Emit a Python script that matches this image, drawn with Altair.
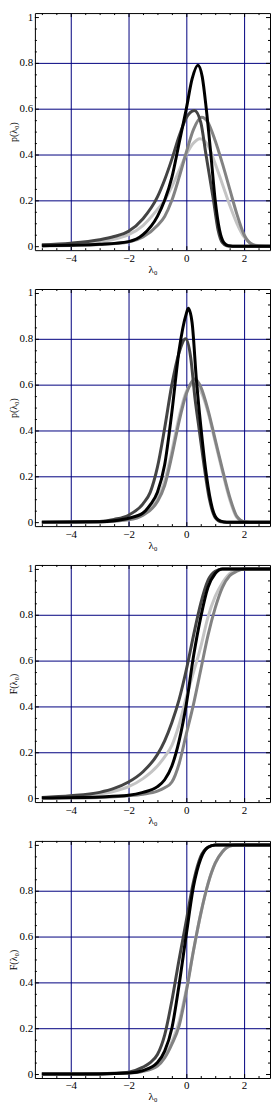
import altair as alt
import pandas as pd

# ---------------- data ----------------
# panel 1 : densities p(lambda0)
P1_LIGHT = [(-5, 0.004), (-4, 0.01), (-3, 0.02), (-2.5, 0.03), (-2, 0.05), (-1.5, 0.09), (-1, 0.16),
            (-0.75, 0.2), (-0.5, 0.26), (-0.25, 0.33), (0, 0.4), (0.25, 0.45), (0.47, 0.469), (0.75, 0.44),
            (1.0, 0.36), (1.25, 0.27), (1.5, 0.18), (1.75, 0.1), (2.0, 0.04), (2.25, 0.01), (2.5, 0.002),
            (2.7, 0.0), (3, 0.0)]
P1_MED = [(-5, 0.001), (-4, 0.003), (-3, 0.007), (-2, 0.018), (-1.5, 0.04), (-1, 0.09), (-0.75, 0.13),
          (-0.5, 0.2), (-0.25, 0.3), (0, 0.41), (0.25, 0.51), (0.53, 0.563), (0.75, 0.54), (1.0, 0.46),
          (1.25, 0.36), (1.5, 0.25), (1.75, 0.14), (2.0, 0.05), (2.25, 0.01), (2.5, 0.001), (3, 0.0)]
P1_DARK = [(-5, 0.006), (-4, 0.013), (-3, 0.028), (-2.5, 0.042), (-2, 0.065), (-1.5, 0.12), (-1, 0.215),
           (-0.75, 0.29), (-0.5, 0.38), (-0.25, 0.48), (0, 0.56), (0.28, 0.592), (0.5, 0.54), (0.68, 0.4),
           (0.94, 0.2), (1.1, 0.07), (1.25, 0.015), (1.4, 0.002), (1.6, 0.0), (3, 0.0)]
P1_BLACK = [(-5, 0.002), (-4, 0.004), (-3, 0.008), (-2, 0.02), (-1.5, 0.05), (-1, 0.13), (-0.75, 0.2),
            (-0.5, 0.3), (-0.25, 0.45), (0, 0.6), (0.2, 0.73), (0.4, 0.79), (0.55, 0.74), (0.69, 0.6),
            (0.85, 0.4), (1.0, 0.2), (1.15, 0.07), (1.3, 0.015), (1.45, 0.002), (1.6, 0.0), (3, 0.0)]

# panel 2 : densities p(lambda0)
P2_LIGHT = [(-5, 0.0), (-3, 0.002), (-2.5, 0.006), (-2, 0.015), (-1.5, 0.04), (-1, 0.1), (-0.75, 0.18),
            (-0.5, 0.31), (-0.25, 0.46), (0, 0.57), (0.2, 0.6), (0.5, 0.57), (0.75, 0.48), (1.0, 0.35),
            (1.25, 0.22), (1.5, 0.1), (1.75, 0.02), (2.0, 0.002), (2.2, 0.0), (3, 0.0)]
P2_MED = [(-5, 0.0), (-3, 0.001), (-2, 0.01), (-1.5, 0.03), (-1, 0.09), (-0.75, 0.16), (-0.5, 0.29),
          (-0.25, 0.44), (0, 0.56), (0.3, 0.625), (0.5, 0.59), (0.75, 0.49), (1.0, 0.36), (1.25, 0.23),
          (1.5, 0.11), (1.75, 0.025), (2.0, 0.002), (2.2, 0.0), (3, 0.0)]
P2_DARK = [(-5, 0.0), (-3, 0.003), (-2.5, 0.012), (-2, 0.03), (-1.5, 0.08), (-1.25, 0.13), (-1, 0.24),
           (-0.75, 0.41), (-0.5, 0.6), (-0.25, 0.74), (-0.02, 0.8), (0.15, 0.72), (0.3, 0.54), (0.45, 0.4),
           (0.6, 0.26), (0.8, 0.1), (1.0, 0.02), (1.2, 0.002), (1.4, 0.0), (3, 0.0)]
P2_BLACK = [(-5, 0.0), (-3, 0.002), (-2.5, 0.006), (-2, 0.017), (-1.5, 0.04), (-1.25, 0.075), (-1, 0.13),
            (-0.75, 0.25), (-0.5, 0.48), (-0.25, 0.75), (0, 0.91), (0.07, 0.933), (0.2, 0.87), (0.35, 0.62),
            (0.5, 0.42), (0.7, 0.2), (0.9, 0.06), (1.1, 0.01), (1.3, 0.001), (1.5, 0.0), (3, 0.0)]

# panel 3 : distribution functions F(lambda0)
P3_LIGHT = [(-5, 0.002), (-4, 0.008), (-3, 0.018), (-2.5, 0.03), (-2, 0.05), (-1.5, 0.085), (-1, 0.14),
            (-0.75, 0.18), (-0.5, 0.23), (-0.25, 0.32), (0, 0.44), (0.25, 0.55), (0.5, 0.66), (0.75, 0.79),
            (1.0, 0.88), (1.25, 0.94), (1.5, 0.98), (1.75, 0.995), (2.0, 1.0), (3, 1.0)]
P3_MED = [(-5, 0.0), (-3, 0.003), (-2, 0.01), (-1.5, 0.017), (-1, 0.03), (-0.75, 0.045), (-0.5, 0.07),
          (-0.25, 0.15), (0, 0.28), (0.25, 0.41), (0.5, 0.56), (0.75, 0.71), (1.0, 0.83), (1.25, 0.92),
          (1.5, 0.97), (1.75, 0.99), (2.0, 1.0), (3, 1.0)]
P3_DARK = [(-5, 0.003), (-4, 0.01), (-3, 0.025), (-2.5, 0.042), (-2, 0.07), (-1.5, 0.115), (-1, 0.19),
           (-0.75, 0.25), (-0.5, 0.33), (-0.25, 0.43), (0, 0.56), (0.25, 0.71), (0.5, 0.85), (0.75, 0.95),
           (1.0, 0.99), (1.25, 1.0), (3, 1.0)]
P3_BLACK = [(-5, 0.0), (-4, 0.002), (-3, 0.005), (-2, 0.012), (-1.5, 0.025), (-1, 0.05), (-0.75, 0.08),
            (-0.5, 0.14), (-0.25, 0.25), (0, 0.41), (0.25, 0.62), (0.5, 0.79), (0.75, 0.92), (1.0, 0.98),
            (1.25, 1.0), (3, 1.0)]

# panel 4 : distribution functions F(lambda0)
P4_LIGHT = [(-5, 0.0), (-3, 0.001), (-2, 0.006), (-1.5, 0.016), (-1, 0.045), (-0.75, 0.08), (-0.5, 0.14),
            (-0.25, 0.23), (0, 0.37), (0.25, 0.54), (0.5, 0.7), (0.75, 0.83), (1.0, 0.92), (1.25, 0.97),
            (1.5, 0.995), (1.75, 1.0), (3, 1.0)]
P4_MED = [(-5, 0.0), (-3, 0.0005), (-2, 0.004), (-1.5, 0.012), (-1, 0.035), (-0.75, 0.07), (-0.5, 0.13),
          (-0.25, 0.21), (0, 0.36), (0.25, 0.54), (0.5, 0.7), (0.75, 0.83), (1.0, 0.92), (1.25, 0.97),
          (1.5, 0.995), (1.75, 1.0), (3, 1.0)]
P4_DARK = [(-5, 0.0), (-3, 0.001), (-2.5, 0.003), (-2, 0.008), (-1.5, 0.03), (-1.25, 0.05), (-1, 0.085),
           (-0.75, 0.17), (-0.5, 0.32), (-0.25, 0.5), (0, 0.67), (0.25, 0.84), (0.5, 0.95), (0.75, 0.99),
           (1.0, 1.0), (3, 1.0)]
P4_BLACK = [(-5, 0.0), (-3, 0.0005), (-2, 0.004), (-1.5, 0.015), (-1, 0.05), (-0.75, 0.1), (-0.5, 0.2),
            (-0.25, 0.39), (0, 0.61), (0.25, 0.82), (0.5, 0.94), (0.75, 0.99), (1.0, 1.0), (3, 1.0)]

Y_TITLES = ["p(λ₀)", "p(λ₀)", "F(λ₀)", "F(λ₀)"]
X_TITLE = "λ₀"
CURVE_COLORS = ["#c4c4c4", "#828282", "#444444", "#000000"]  # drawn in this order

X_MAJOR = [-4, -2, 0, 2]
X_MINOR = [-5, -4.5, -3.5, -3, -2.5, -1.5, -1, -0.5, 0.5, 1, 1.5, 2.5]
Y_MAJOR = [0, 0.2, 0.4, 0.6, 0.8, 1.0]
Y_MINOR = [0.05, 0.1, 0.15, 0.25, 0.3, 0.35, 0.45, 0.5, 0.55, 0.65, 0.7, 0.75, 0.85, 0.9, 0.95]

# ---------------- styling ----------------
W, H = 236, 238
XDOM = [-152 / 29, 84 / 29]          # 29 px per unit, gridlines on whole pixels
YDOM = [-4 / 230, 1 + 4 / 230]       # 230 px per unit
NAVY = "#000080"
SERIF = "Liberation Serif"
GRID_OPACITY = {"condition": {"test": "datum.value > 0.1 && datum.value < 0.9", "value": 1}, "value": 0}


def make_panel(ytitle, series):
    xs = alt.Scale(domain=XDOM, nice=False, zero=False)
    ys = alt.Scale(domain=YDOM, nice=False, zero=False)
    xaxis = alt.Axis(values=X_MAJOR, grid=True, gridColor=NAVY, gridOpacity=1, gridWidth=1,
                     ticks=False, domain=False, labelFlush=False, labelPadding=2,
                     labelFont=SERIF, labelFontSize=11, labelColor="black",
                     title=X_TITLE, titleFont=SERIF, titleFontSize=11, titleFontWeight="normal",
                     titleColor="black", titlePadding=0)
    yaxis = alt.Axis(values=Y_MAJOR, format="~g", grid=True, gridColor=NAVY, gridWidth=1,
                     gridOpacity=GRID_OPACITY, ticks=False, domain=False,
                     labelFlush=False, labelPadding=2.25,
                     labelFont=SERIF, labelFontSize=11, labelColor="black",
                     title=ytitle, titleFont=SERIF, titleFontSize=10, titleFontWeight="normal",
                     titleColor="black", titlePadding=0)

    def xt(vals, y1, y2):
        return alt.Chart(pd.DataFrame({"v": vals})).mark_rule(
            color="black", strokeWidth=1, xOffset=0.5).encode(
            x=alt.X("v:Q", scale=xs, axis=xaxis), y=alt.value(y1), y2=alt.value(y2))

    def yt(vals, x1, x2):
        return alt.Chart(pd.DataFrame({"v": vals})).mark_rule(
            color="black", strokeWidth=1, yOffset=0.5).encode(
            y=alt.Y("v:Q", scale=ys, axis=yaxis), x=alt.value(x1), x2=alt.value(x2))

    layers = [xt(X_MAJOR, H, H - 4), xt(X_MINOR, H, H - 2), xt(X_MAJOR, 0, 4), xt(X_MINOR, 0, 2),
              yt(Y_MAJOR, 0, 4), yt(Y_MINOR, 0, 2), yt(Y_MAJOR, W, W - 4), yt(Y_MINOR, W, W - 2)]

    for pts, col in zip(series, CURVE_COLORS):
        df = pd.DataFrame(pts, columns=["x", "y"])
        layers.append(
            alt.Chart(df).mark_line(color=col, strokeWidth=3, interpolate="monotone", clip=True).encode(
                x=alt.X("x:Q", scale=xs, axis=xaxis),
                y=alt.Y("y:Q", scale=ys, axis=yaxis),
            )
        )
    return alt.layer(*layers).properties(width=W, height=H)


panels = [
    make_panel(Y_TITLES[0], [P1_LIGHT, P1_MED, P1_DARK, P1_BLACK]),
    make_panel(Y_TITLES[1], [P2_LIGHT, P2_MED, P2_DARK, P2_BLACK]),
    make_panel(Y_TITLES[2], [P3_LIGHT, P3_MED, P3_DARK, P3_BLACK]),
    make_panel(Y_TITLES[3], [P4_LIGHT, P4_MED, P4_DARK, P4_BLACK]),
]

chart = alt.vconcat(*panels, spacing=39, bounds="flush").properties(
    padding=0,
    background="white",
).configure_view(stroke="black", strokeWidth=1)

chart.save("out.html", embed_options={"renderer": "svg", "actions": False})
